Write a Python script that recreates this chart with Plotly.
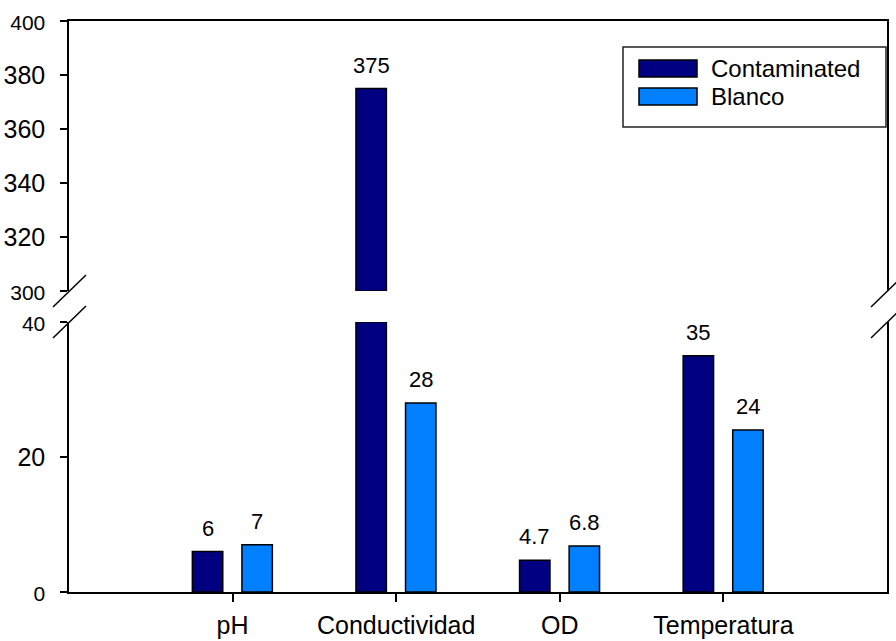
import plotly.graph_objects as go

categories = ["pH", "Conductividad", "OD", "Temperatura"]
series_names = ["Contaminated", "Blanco"]
contaminated = [6, 375, 4.7, 35]
blanco = [7, 28, 6.8, 24]
labels_contaminated = ["6", "375", "4.7", "35"]
labels_blanco = ["7", "28", "6.8", "24"]
colors = ["#000080", "#0080FF"]

lower_range = [0, 40]
upper_range = [300, 400]
lower_ticks = [0, 20, 40]
upper_ticks = [300, 320, 340, 360, 380, 400]

# layout geometry (pixels)
L, R, T, B = 69, 9, 21, 49
W, H = 896, 641
pw, ph = W - L - R, H - T - B
lower_dom = [0, (592 - 322) / ph]
upper_dom = [(592 - 291) / ph, 1]

bar_width = 0.186
offsets = [-0.246, 0.057]

def px(x):
    return (x - L) / pw

def py(y):
    return (592 - y) / ph

fig = go.Figure()
series = [contaminated, blanco]
labels = [labels_contaminated, labels_blanco]
idx = list(range(len(categories)))
for s, (name, vals, col) in enumerate(zip(series_names, series, colors)):
    low = [min(v, lower_range[1]) for v in vals]
    fig.add_trace(go.Bar(x=idx, y=low, name=name, marker=dict(color=col, line=dict(color="black", width=1.5)),
                         width=bar_width, offset=offsets[s], xaxis="x", yaxis="y", showlegend=False,
                         hoverinfo="skip"))
    up = [v - upper_range[0] if v > upper_range[0] else None for v in vals]
    fig.add_trace(go.Bar(x=idx, y=up, base=upper_range[0], name=name,
                         marker=dict(color=col, line=dict(color="black", width=1.5)),
                         width=bar_width, offset=offsets[s], xaxis="x2", yaxis="y2", showlegend=False,
                         hoverinfo="skip"))

annotations = []
for s, vals in enumerate(series):
    for i, v in enumerate(vals):
        if v > upper_range[0]:
            yref = "y2"
        elif v <= lower_range[1]:
            yref = "y"
        else:
            continue
        annotations.append(dict(x=i + offsets[s] + bar_width / 2, y=v, xref="x", yref=yref,
                                text=labels[s][i], showarrow=False, yanchor="bottom", yshift=9,
                                font=dict(size=22, color="black")))

# manual legend
shapes = [dict(type="rect", xref="paper", yref="paper", x0=px(623), x1=px(886), y0=py(127), y1=py(47),
               line=dict(color="#222", width=1.5), fillcolor="white", layer="above")]
for k, (name, col) in enumerate(zip(series_names, colors)):
    ytop = 60 + 28 * k
    shapes.append(dict(type="rect", xref="paper", yref="paper", x0=px(639), x1=px(697),
                       y0=py(ytop + 17), y1=py(ytop), line=dict(color="black", width=1.5),
                       fillcolor=col, layer="above"))
    annotations.append(dict(x=px(709), y=py(ytop + 8.5), xref="paper", yref="paper", text=name,
                            showarrow=False, xanchor="left", yanchor="middle",
                            font=dict(size=24, color="black")))

# axis break slashes
for xa in [0, 1]:
    for ya in [upper_dom[0], lower_dom[1]]:
        shapes.append(dict(type="line", xref="paper", yref="paper", xsizemode="pixel", ysizemode="pixel",
                           xanchor=xa, yanchor=ya, x0=-16, x1=17, y0=-16, y1=16,
                           line=dict(color="black", width=1.5)))

def ticktext(vals, small):
    out = []
    for v in vals:
        if v in small:
            out.append('<span style="font-size:21px">%d</span>' % v)
        else:
            out.append(str(v))
    return out

axis_common = dict(showline=True, linecolor="black", linewidth=1.5, ticks="outside", ticklen=7,
                   tickcolor="black", tickwidth=1.5, showgrid=False, zeroline=False, automargin=False,
                   tickfont=dict(size=25, color="black"), ticklabelstandoff=10, mirror=True)

fig.update_layout(
    width=W, height=H,
    margin=dict(l=L, r=R, t=T, b=B, autoexpand=False),
    paper_bgcolor="white", plot_bgcolor="white",
    font=dict(family="Liberation Sans, Arial, sans-serif", color="black"),
    barmode="overlay",
    xaxis=dict(domain=[0, 1], anchor="y", range=[-1, 4], tickmode="array", tickvals=idx, ticktext=categories,
               showline=True, linecolor="black", linewidth=1.5, ticks="outside", ticklen=8, tickwidth=1.5,
               tickcolor="black", showgrid=False, zeroline=False, tickfont=dict(size=25, color="black"),
               ticklabelstandoff=2, automargin=False),
    xaxis2=dict(domain=[0, 1], anchor="y2", matches="x", side="top", showline=True, linecolor="black",
                linewidth=1.5, showticklabels=False, ticks="", showgrid=False, zeroline=False, automargin=False),
    yaxis=dict(domain=lower_dom, anchor="x", range=lower_range, tickmode="array", tickvals=lower_ticks,
               ticktext=ticktext(lower_ticks, [0, 40]), **axis_common),
    yaxis2=dict(domain=upper_dom, anchor="x2", range=upper_range, tickmode="array", tickvals=upper_ticks,
                ticktext=ticktext(upper_ticks, [300, 400]), **axis_common),
    shapes=shapes,
    annotations=annotations,
    showlegend=False,
)

fig.write_html("out.html", config={"displayModeBar": False},
               post_script="document.body.style.margin='0';document.body.style.overflow='hidden';")
